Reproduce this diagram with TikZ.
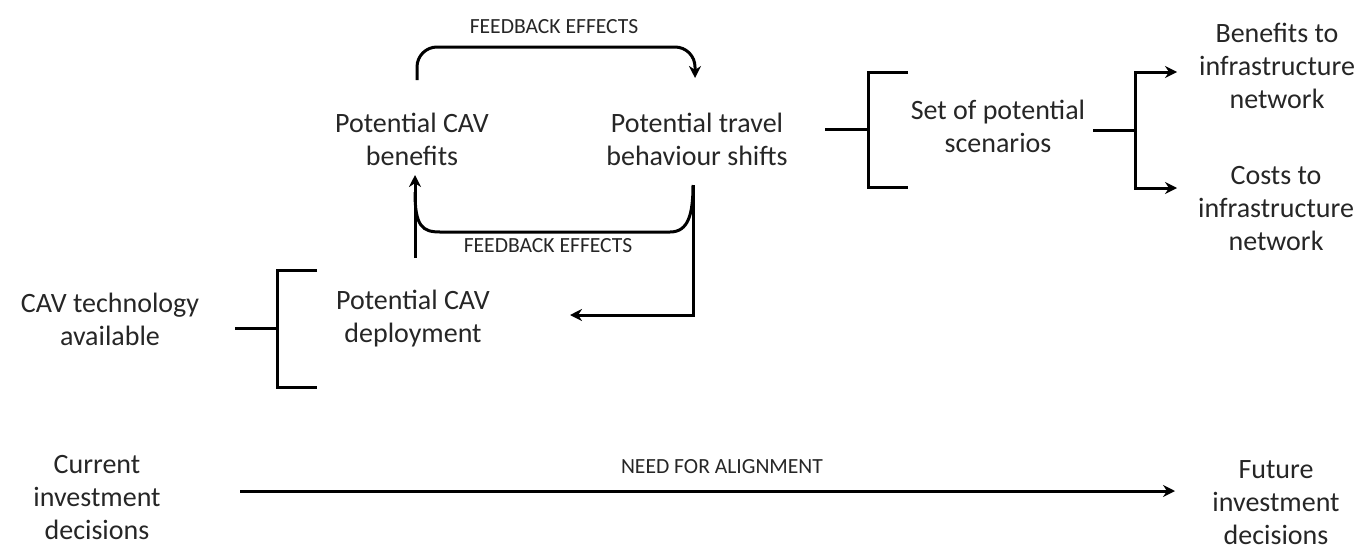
\documentclass[tikz,border=0pt]{standalone}
\usepackage{fontspec}
\setmainfont{Carlito}
\usetikzlibrary{arrows.meta, positioning}

\begin{document}
\begin{tikzpicture}[
    x=0.5pt, y=-0.5pt,
    txt/.style={align=center, font=\fontsize{14}{16.5}\selectfont, text=black!85, inner sep=0pt},
    lbl/.style={font=\fontsize{10.8}{12}\selectfont, text=black!85, inner sep=0pt},
    line/.style={line width=1.5pt},
    arrow/.style={line width=1.5pt, -{Stealth[length=6pt, width=6pt]}}
]
    \useasboundingbox (0,0) rectangle (1363,552);

    % Nodes
    \node[txt] (tech) at (110,319) {CAV technology\\available};
    \node[txt] (deploy) at (413,319) {Potential CAV\\deployment};
    \node[txt] (benefits) at (412,139) {Potential CAV\\benefits};
    \node[txt] (travel) at (697,139) {Potential travel\\behaviour shifts};
    \node[txt] (scen) at (998,126) {Set of potential\\scenarios};
    \node[txt] (infben) at (1277,66) {Benefits to\\infrastructure\\network};
    \node[txt] (infcost) at (1276,209) {Costs to\\infrastructure\\network};
    \node[txt] (current) at (97,498) {Current\\investment\\decisions};
    \node[txt] (future) at (1276,503) {Future\\investment\\decisions};

    % Bracket points
    \coordinate (techstub) at (235,328);
    \coordinate (deplbr) at (277,328);
    \coordinate (travstub) at (825,129);
    \coordinate (scenbr) at (868,129);
    \coordinate (scenstub) at (1093,130);
    \coordinate (fork) at (1135,130);

    % Brackets
    \draw[line] (techstub) -- (deplbr);
    \draw[line] (317,270) -| (277,387) -- (317,387);
    \draw[line] (travstub) -- (scenbr);
    \draw[line] (908,72) -| (868,187) -- (908,187);
    \draw[line] (scenstub) -- (fork);
    \draw[arrow] (fork) |- (1177,72);
    \draw[arrow] (fork) |- (1177,188);

    % Feedback loops
    \draw[arrow, rounded corners=10pt] (417,80) -- (417,47) -- (695,47) -- (695,78);
    \node[lbl] (fbtop) at (554,27) {FEEDBACK EFFECTS};
    \draw[arrow] (415,258) -- (415,175);
    \draw[line] (415,192) .. controls (415,226) and (422,232) .. (440,232) -- (670,232)
        .. controls (688,232) and (693,215) .. (693,185);
    \draw[arrow] (693,185) -- (693,315) -- (570,315);
    \node[lbl] (fbbot) at (548,246) {FEEDBACK EFFECTS};

    % Alignment
    \draw[arrow] (240,491) -- (1175,491);
    \node[lbl] (align) at (722,467) {NEED FOR ALIGNMENT};
\end{tikzpicture}
\end{document}
